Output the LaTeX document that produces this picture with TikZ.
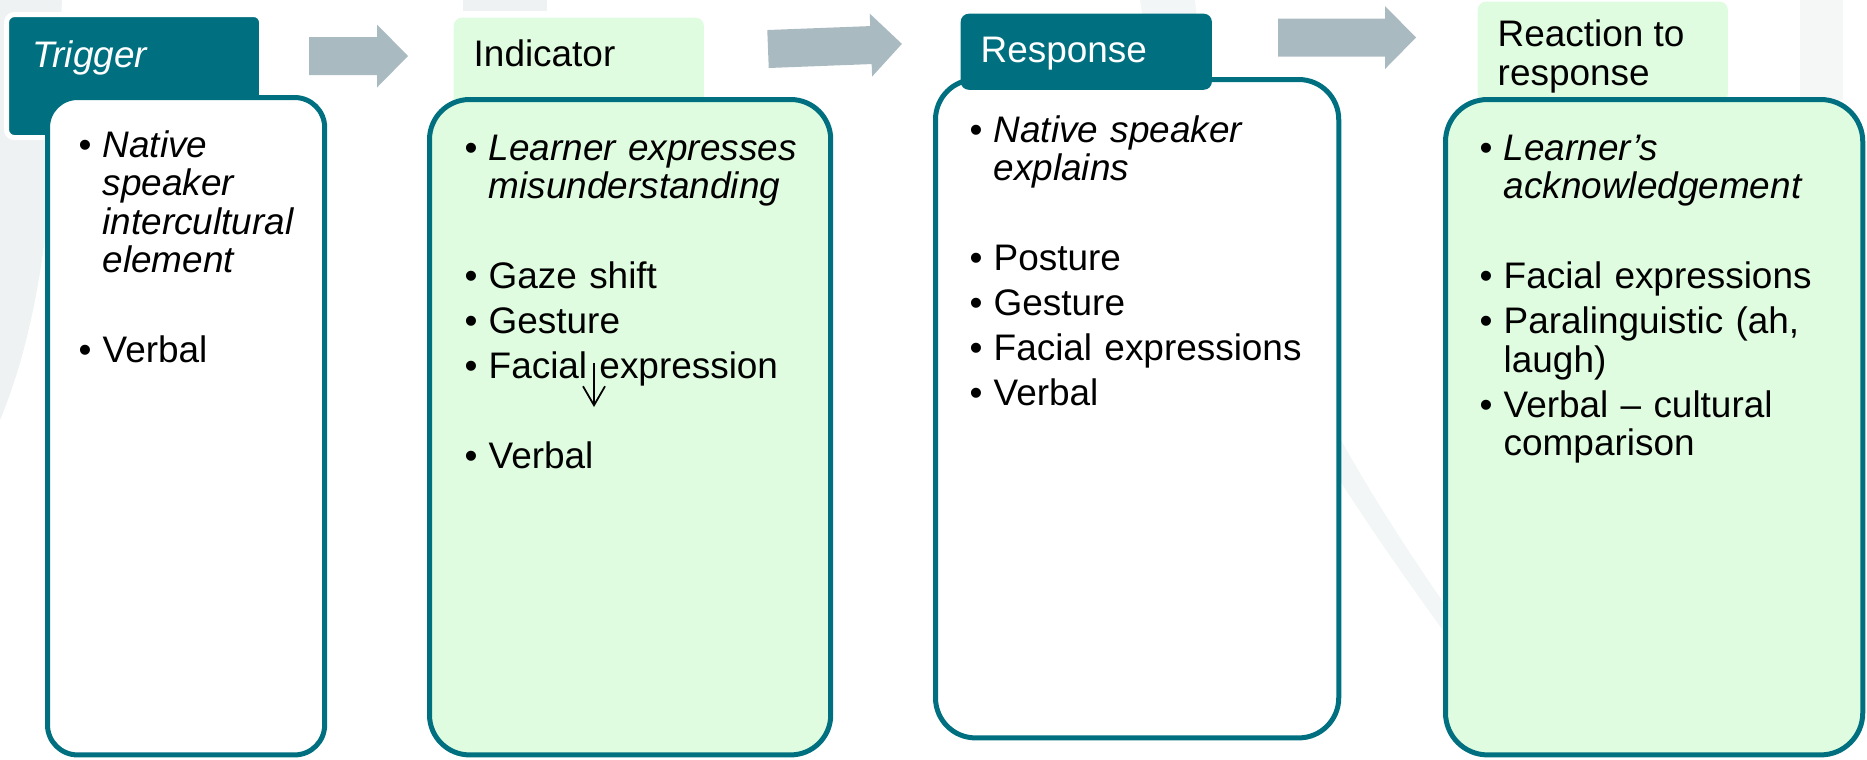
\documentclass[tikz,border=0pt]{standalone}
\usepackage{fontspec}
\setmainfont{Liberation Sans}
\usetikzlibrary{arrows.meta}
\definecolor{stageteal}{RGB}{0,112,128}
\definecolor{stagemint}{RGB}{224,252,224}
\definecolor{stagegray}{RGB}{170,186,193}
\definecolor{swoosh}{RGB}{238,242,242}
\hyphenpenalty=10000
\exhyphenpenalty=10000
\newcommand{\bitem}[1]{\hangindent=0.2cm\hangafter=1\noindent\makebox[0.2cm][l]{\hspace{-0.04cm}\textbullet}#1\par}
\newcommand{\blankln}{\noindent\mbox{}\par}

\begin{document}
\begin{tikzpicture}[x=0.01cm,y=-0.01cm,
		panel/.style={rectangle,draw=stageteal,line width=0.05cm,anchor=north west,inner sep=0},
		tab/.style={rectangle,rounded corners=0.08cm,anchor=north west,inner sep=0},
		tabtext/.style={anchor=base west,inner sep=0,font=\fontsize{10.5}{10.95}\selectfont},
		pts/.style={anchor=base west,inner sep=0,text width=#1,align=left,font=\fontsize{10.5}{10.95}\selectfont,execute at begin node={\setlength{\parskip}{0.065cm}\hyphenpenalty=10000}}]
		\useasboundingbox (0,0) rectangle (1867,759);
		\fill[swoosh] (0,0) -- (62,0) .. controls (55,150) and (50,300) .. (0,420) -- cycle;
		\fill[swoosh!70] (1140,0) .. controls (1170,200) and (1260,380) .. (1450,640) -- (1470,640) .. controls (1290,390) and (1215,200) .. (1195,0) -- cycle;
		\fill[swoosh] (463,0) rectangle (547,11);
		\fill[swoosh!60] (1800,0) rectangle (1843,100);
		
		\node[tab,fill=stageteal,draw=white,line width=0.05cm,minimum width=2.55cm,minimum height=1.23cm] (trigtab) at (4,12) {};
		\node[panel,fill=white,rounded corners=0.3cm,minimum width=2.77cm,minimum height=6.57cm] (trigbox) at (45,95) {};
		\node[tab,fill=stagemint,minimum width=2.5cm,minimum height=1.0cm] (indtab) at (453,17) {};
		\node[panel,fill=stagemint,rounded corners=0.4cm,minimum width=4.01cm,minimum height=6.55cm] (indbox) at (427,97) {};
		\node[panel,fill=white,rounded corners=0.4cm,minimum width=4.03cm,minimum height=6.58cm] (respbox) at (933,77) {};
		\node[tab,fill=stageteal,minimum width=2.51cm,minimum height=0.76cm] (resptab) at (960,13) {};
		\node[tab,fill=stagemint,minimum width=2.5cm,minimum height=1.0cm] (reacttab) at (1477,1) {};
		\node[panel,fill=stagemint,rounded corners=0.42cm,minimum width=4.17cm,minimum height=6.55cm] (reactbox) at (1443,97) {};
		
		\foreach \ax/\ay/\alen/\arot in {309/56/99/0,768/49/134/2.2,1278/37.5/138/0}
			\fill[stagegray,shift={(\ax,\ay)},rotate=\arot] (0,-19) -- (\alen-31,-19) -- (\alen-31,-31.5) -- (\alen,0) -- (\alen-31,31.5) -- (\alen-31,19) -- (0,19) -- cycle;
		
		\node[tabtext,text=white] (trigtxt) at (32,67) {\textit{Trigger}};
		\node[tabtext] (indtxt) at (473,66) {Indicator};
		\node[tabtext,text=white] (resptxt) at (980,62) {Response};
		\node[tabtext,align=left] (reacttxt) at (1497,85) {Reaction to\\response};
		
		\node[pts=2.35cm] (trigpts) at (82,157) {\bitem{\textit{Native speaker intercultural element}}\blankln\bitem{Verbal}};
		\node[pts=3.6cm] (indpts) at (468,160) {\bitem{\textit{Learner expresses misunderstanding}}\blankln\bitem{Gaze shift}\bitem{Gesture}\bitem{Facial expression}\blankln\bitem{Verbal}};
		\node[pts=3.55cm] (resppts) at (973,142) {\bitem{\textit{Native speaker explains}}\blankln\bitem{Posture}\bitem{Gesture}\bitem{Facial expressions}\bitem{Verbal}};
		\node[pts=3.65cm] (reactpts) at (1483,160) {\bitem{\textit{Learner’s acknowledgement}}\blankln\bitem{Facial expressions}\bitem{Paralinguistic (ah, laugh)}\bitem{Verbal – cultural comparison}};
		
		\coordinate (gazetop) at (594,363);
		\coordinate (gazebot) at (594,407);
		\draw[line width=0.5pt,-{Straight Barb[length=0.19cm,width=0.22cm]}] (gazetop) -- (gazebot);
	\end{tikzpicture}
\end{document}
